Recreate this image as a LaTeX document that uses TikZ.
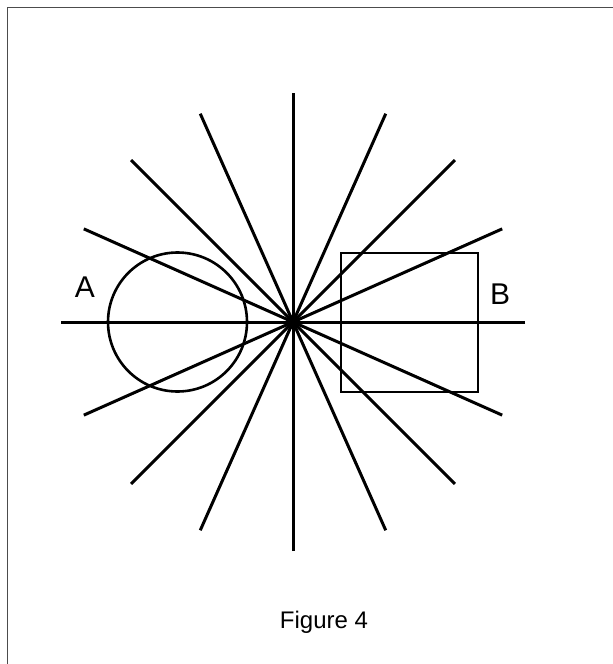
\documentclass[tikz,border=0pt]{standalone}
\usepackage{fontspec}
\setmainfont{Liberation Sans}
\usetikzlibrary{calc}
\begin{document}
\begin{tikzpicture}[x=1pt,y=-1pt,
  ray/.style={line width=3pt},
  shapeline/.style={line width=2.6pt},
  framel/.style={line width=1pt,black!70},
  lbl/.style={font=\fontsize{30}{32}\selectfont,inner sep=0pt}]
\useasboundingbox (0,0) rectangle (613,664);
% frame (only top and left visible)
\coordinate (fa) at (7,664);
\coordinate (fb) at (7,7);
\coordinate (fc) at (613,7);
\draw[framel] (fa) -- (fb) -- (fc);
% center
\coordinate (O) at (293,322);
% rays
\foreach \a/\n/\l in {0/r0/232,24/r1/229,45/r2/229,66/r3/228,90/r4/229,114/r5/228,135/r6/229,156/r7/229}{
  \coordinate (\n a) at ($(O)+(\a:\l)$);
  \coordinate (\n b) at ($(O)+(\a+180:\l)$);
  \draw[ray] (\n a) -- (\n b);
}
\fill (O) circle (7);
% circle A
\coordinate (cA) at (177.5,322);
\draw[shapeline] (cA) circle (69.5);
\node[lbl] (A) at (85,287) {A};
% rectangle B
\coordinate (b1) at (341,253);
\coordinate (b2) at (478,392);
\draw[shapeline] (b1) rectangle (b2);
\node[lbl] (B) at (500,294) {B};
% caption
\node[font=\fontsize{24}{26}\selectfont,inner sep=0pt] (cap) at (324,622) {Figure 4};
\end{tikzpicture}
\end{document}
